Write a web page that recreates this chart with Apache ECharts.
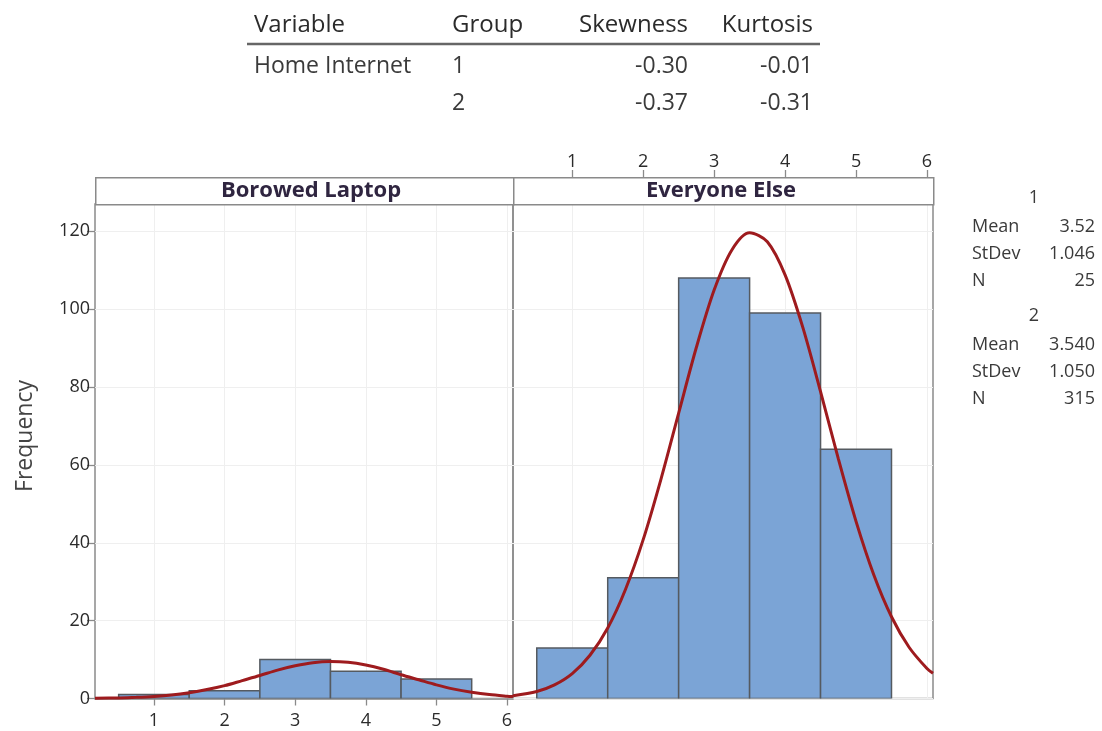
<!DOCTYPE html>
<html><head><meta charset="utf-8">
<script src="https://cdn.jsdelivr.net/npm/echarts@6/dist/echarts.min.js"></script>
<style>html,body{margin:0;padding:0;background:#fff}#c{width:1102px;height:731px}</style>
</head><body><div id="c"></div>
<script>
// ---- data ----
const panelNames = ['Borowed Laptop', 'Everyone Else'];
const yAxisTitle = 'Frequency';
const binCenters = [1, 2, 3, 4, 5];
const borrowedCounts = [1, 2, 10, 7, 5];
const everyoneCounts = [13, 31, 108, 99, 64];
const xTicks = [1, 2, 3, 4, 5, 6];
const yTicks = [0, 20, 40, 60, 80, 100, 120];
// fitted normal curves
const curveX = [0.165, 0.5, 0.75, 1, 1.25, 1.5, 1.75, 2, 2.25, 2.5, 2.75, 3, 3.25, 3.5, 3.75, 4, 4.25, 4.5, 4.75, 5, 5.25, 5.5, 5.75, 6, 6.085];
const borrowedCurve = [0.06, 0.15, 0.29, 0.52, 0.9, 1.5, 2.3, 3.3, 4.6, 5.9, 7.3, 8.4, 9.2, 9.5, 9.3, 8.6, 7.5, 6.1, 4.8, 3.5, 2.4, 1.6, 1.0, 0.6, 0.5];
const everyoneCurve = [0.7, 1.8, 3.5, 6.4, 11.1, 18.1, 28, 40.8, 56.3, 73.3, 90.2, 104.9, 115.2, 119.6, 117.3, 108.8, 95.3, 78.8, 61.6, 45.5, 31.8, 21, 13.1, 7.7, 6.5];
const tableHeader = ['Variable', 'Group', 'Skewness', 'Kurtosis'];
const tableRows = [['Home Internet', '1', '-0.30', '-0.01'], ['', '2', '-0.37', '-0.31']];
const statGroups = [
  {name: '1', labels: ['Mean', 'StDev', 'N'], values: ['3.52', '1.046', '25']},
  {name: '2', labels: ['Mean', 'StDev', 'N'], values: ['3.540', '1.050', '315']}
];

// ---- chart ----
const FONT = '"Open Sans", "Noto Sans", sans-serif';
const BORDER = '#8a8a8a';
const TXT = '#2b2b2b';
const chart = echarts.init(document.getElementById('c'), null, {renderer: 'canvas'});

function pairs(xs, ys) { return xs.map((x, i) => [x, ys[i]]); }
function barRender(params, api) {
  const x = api.value(0), y = api.value(1);
  const p0 = api.coord([x - 0.5, y]);
  const p1 = api.coord([x + 0.5, 0]);
  return {type: 'rect', shape: {x: p0[0], y: p0[1], width: p1[0] - p0[0], height: p1[1] - p0[1]},
    style: {fill: '#7ba4d6', stroke: '#555a60', lineWidth: 1.5}};
}
const gridDefs = [
  {left: 95, right: 589, top: 204, bottom: 32.5},
  {left: 513, right: 169, top: 204, bottom: 32.5}
];
const yAxisBase = {
  type: 'value', min: 0, max: 127, interval: 20,
  axisLine: {show: false},
  splitLine: {show: true, lineStyle: {color: '#efefef'}}
};
const option = {
  animation: false,
  backgroundColor: '#fff',
  grid: gridDefs.map(g => Object.assign({show: true, borderColor: BORDER, borderWidth: 1.5, backgroundColor: 'transparent'}, g)),
  xAxis: [
    {type: 'value', min: 0.165, max: 6.085, gridIndex: 0, position: 'bottom',
      axisLine: {show: true, onZero: false, lineStyle: {color: BORDER, width: 1.5}},
      axisTick: {show: true, customValues: xTicks, length: 7, lineStyle: {color: BORDER, width: 1.3}},
      axisLabel: {customValues: xTicks, color: TXT, fontSize: 18, fontFamily: FONT, margin: 13},
      splitLine: {show: true, lineStyle: {color: '#efefef', width: 1}}},
    {type: 'value', min: 0.165, max: 6.085, gridIndex: 1, position: 'top', offset: 27,
      axisLine: {show: false, onZero: false},
      axisTick: {show: true, customValues: xTicks, length: 7, lineStyle: {color: BORDER, width: 1.3}},
      axisLabel: {customValues: xTicks, color: TXT, fontSize: 18, fontFamily: FONT, margin: 6},
      splitLine: {show: true, lineStyle: {color: '#efefef', width: 1}}}
  ],
  yAxis: [
    Object.assign({}, yAxisBase, {gridIndex: 0,
      axisTick: {show: true, customValues: yTicks, length: 8, lineStyle: {color: BORDER, width: 1.3}},
      axisLabel: {customValues: yTicks, color: TXT, fontSize: 18, fontFamily: FONT, margin: 5}}),
    Object.assign({}, yAxisBase, {gridIndex: 1,
      axisTick: {show: false, customValues: yTicks},
      axisLabel: {show: false, customValues: yTicks}})
  ],
  series: [
    {type: 'custom', xAxisIndex: 0, yAxisIndex: 0, renderItem: barRender, data: pairs(binCenters, borrowedCounts), clip: true, z: 2},
    {type: 'custom', xAxisIndex: 1, yAxisIndex: 1, renderItem: barRender, data: pairs(binCenters, everyoneCounts), clip: true, z: 2},
    {type: 'line', xAxisIndex: 0, yAxisIndex: 0, data: pairs(curveX, borrowedCurve), smooth: 0.3, showSymbol: false,
      lineStyle: {color: '#9e1b1e', width: 3}, clip: true, z: 3},
    {type: 'line', xAxisIndex: 1, yAxisIndex: 1, data: pairs(curveX, everyoneCurve), smooth: 0.3, showSymbol: false,
      lineStyle: {color: '#9e1b1e', width: 3}, clip: true, z: 3}
  ],
  graphic: []
};

// y axis title
option.graphic.push({type: 'text', x: 25, y: 436, rotation: Math.PI / 2,
  style: {text: yAxisTitle, fill: '#444', font: '23px ' + FONT, textAlign: 'center', textVerticalAlign: 'middle'}});

// panel header strips
const strips = [{x: 95, w: 418, cx: 311}, {x: 513, w: 420, cx: 721}];
strips.forEach((s, i) => {
  option.graphic.push({type: 'rect', left: s.x, top: 177, z: 10,
    shape: {x: 0, y: 0, width: s.w, height: 27},
    style: {fill: '#fff', stroke: BORDER, lineWidth: 1.5}});
  option.graphic.push({type: 'text', z: 11, x: s.cx, y: 190.5,
    style: {text: panelNames[i], fill: '#2f2540', font: 'bold 22px ' + FONT, textAlign: 'center', textVerticalAlign: 'middle'}});
});

// table
const colX = [254, 452, 688, 813];
const colAlign = ['left', 'left', 'right', 'right'];
tableHeader.forEach((t, i) => {
  option.graphic.push({type: 'text', x: colX[i], y: 25,
    style: {text: t, fill: TXT, font: '24px ' + FONT, textAlign: colAlign[i], textVerticalAlign: 'middle'}});
});
option.graphic.push({type: 'line', shape: {x1: 247, y1: 44, x2: 820, y2: 44}, style: {stroke: '#666', lineWidth: 2.5}});
tableRows.forEach((row, r) => {
  row.forEach((t, i) => {
    option.graphic.push({type: 'text', x: colX[i], y: 66 + r * 37,
      style: {text: t, fill: '#3a3a3a', font: '23px ' + FONT, textAlign: colAlign[i], textVerticalAlign: 'middle'}});
  });
});

// stats panel
statGroups.forEach((g, gi) => {
  const y0 = 198 + gi * 118;
  option.graphic.push({type: 'text', x: 1034, y: y0,
    style: {text: g.name, fill: '#3a3a3a', font: '18px ' + FONT, textAlign: 'center', textVerticalAlign: 'middle'}});
  g.labels.forEach((l, li) => {
    const y = y0 + 29 + li * 27;
    option.graphic.push({type: 'text', x: 972, y: y,
      style: {text: l, fill: '#3a3a3a', font: '18px ' + FONT, textAlign: 'left', textVerticalAlign: 'middle'}});
    option.graphic.push({type: 'text', x: 1095, y: y,
      style: {text: g.values[li], fill: '#3a3a3a', font: '18px ' + FONT, textAlign: 'right', textVerticalAlign: 'middle'}});
  });
});

chart.setOption(option);
</script></body></html>
